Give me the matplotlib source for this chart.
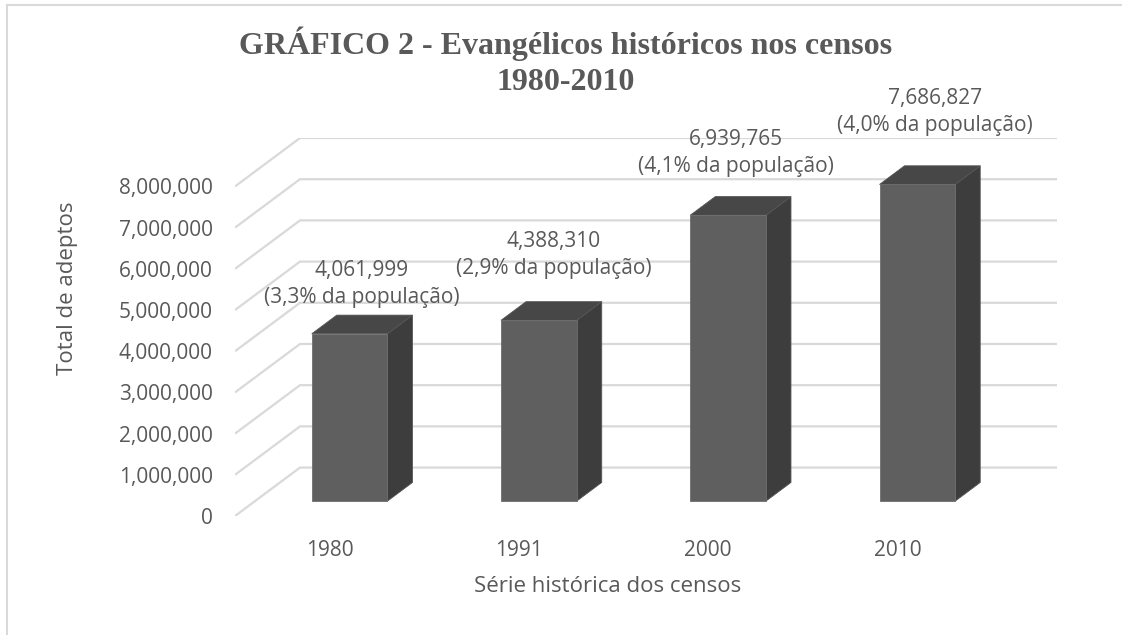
import matplotlib
matplotlib.use("Agg")
import matplotlib.pyplot as plt
from matplotlib.patches import Polygon
from matplotlib.ticker import FuncFormatter
from matplotlib.lines import Line2D

# ---- data ----
years = ["1980", "1991", "2000", "2010"]
adeptos = [4061999, 4388310, 6939765, 7686827]
pct_labels = ["(3,3% da população)", "(2,9% da população)",
              "(4,1% da população)", "(4,0% da população)"]
yticks = [0, 1000000, 2000000, 3000000, 4000000, 5000000, 6000000, 7000000, 8000000]
title_line1 = "GRÁFICO 2 - Evangélicos históricos nos censos"
title_line2 = "1980-2010"
xlabel = "Série histórica dos censos"
ylabel = "Total de adeptos"

# ---- layout / style ----
W, H = 1122, 635
TXT = "#595959"
GRID = "#d9d9d9"
FRONT = "#5f5f5f"
SIDE = "#3d3d3d"
TOP = "#474747"
FONT = ["Open Sans", "DejaVu Sans"]
SERIF = ["Liberation Serif", "DejaVu Serif"]

fig = plt.figure(figsize=(W / 100, H / 100), dpi=100)
# axes rectangle in pixels: x 235..1057, y 138..516
ax = fig.add_axes([235 / W, 1 - 516 / H, (1057 - 235) / W, (516 - 138) / H])
n = len(years)
depth_x = 65 / 189.25          # full depth in category units
depth_y = 48.5 / 41.25 * 1e6   # full depth in value units
ymax_front = 8000000
ax.set_xlim(-0.5, n - 0.5 + depth_x)
ax.set_ylim(0, ymax_front + depth_y)
for s in ax.spines.values():
    s.set_visible(False)

# gridlines: side wall diagonal + back wall horizontal
for v in yticks:
    ax.plot([-0.5, -0.5 + depth_x, n - 0.5 + depth_x], [v, v + depth_y, v + depth_y],
            color=GRID, lw=1.6, zorder=1, solid_capstyle="butt")

# bars
bar_w = 0.40
bar_d = 25 / 65                      # bar depth fraction of full depth
front_f = 0.5 - bar_d / 2            # front face depth fraction
bdx, bdy = bar_d * depth_x, bar_d * depth_y
for i, h in enumerate(adeptos):
    x0 = i - bar_w / 2 + front_f * depth_x
    y0 = front_f * depth_y
    x1 = x0 + bar_w
    y1 = y0 + h
    front = Polygon([(x0, y0), (x1, y0), (x1, y1), (x0, y1)], closed=True,
                    facecolor=FRONT, edgecolor="#6e6e6e", lw=0.6, zorder=3)
    side = Polygon([(x1, y0), (x1 + bdx, y0 + bdy), (x1 + bdx, y1 + bdy), (x1, y1)],
                   closed=True, facecolor=SIDE, edgecolor="#555555", lw=0.6, zorder=3)
    top = Polygon([(x0, y1), (x1, y1), (x1 + bdx, y1 + bdy), (x0 + bdx, y1 + bdy)],
                  closed=True, facecolor=TOP, edgecolor="#555555", lw=0.6, zorder=3)
    for p in (side, top, front):
        ax.add_patch(p)

# data labels (manual placement offsets in pixels from bar front-top centre)
label_dx = [-0.5, 2.3, -5, 5]
label_dy = [50, 65.5, 62, 72.5]
for i, h in enumerate(adeptos):
    cx = i + 0.5 * depth_x
    cy = front_f * depth_y + h
    ax.annotate(f"{h:,}\n{pct_labels[i]}", xy=(cx, cy),
                xytext=(label_dx[i] * 0.72, label_dy[i] * 0.72), textcoords="offset points",
                ha="center", va="center", fontsize=15, color=TXT, family=FONT,
                linespacing=1.35, zorder=5)

# ticks
ax.set_yticks(yticks)
ax.yaxis.set_major_formatter(FuncFormatter(lambda v, p: f"{int(v):,}"))
ax.set_xticks(range(n))
ax.set_xticklabels(years)
ax.tick_params(axis="y", length=0, pad=16, labelsize=15, labelcolor=TXT)
ax.tick_params(axis="x", length=0, pad=17, labelsize=15, labelcolor=TXT)
for lab in ax.get_xticklabels() + ax.get_yticklabels():
    lab.set_family(FONT)
ax.grid(False)

# axis titles
fig.text(68 / W, 1 - 288 / H, ylabel, rotation=90, ha="center", va="center",
         fontsize=16, color=TXT, family=FONT)
fig.text(608 / W, 1 - 587 / H, xlabel, ha="center", va="center",
         fontsize=16, color=TXT, family=FONT)

# title
fig.text(566 / W, 1 - 44 / H, title_line1, ha="center", va="center",
         fontsize=23, fontweight="bold", color=TXT, family=SERIF)
fig.text(566 / W, 1 - 82 / H, title_line2, ha="center", va="center",
         fontsize=23, fontweight="bold", color=TXT, family=SERIF)

# chart frame (left and top edges visible)
fig.add_artist(Line2D([7 / W, 7 / W], [0, 1 - 5 / H], color=GRID, lw=1.5))
fig.add_artist(Line2D([7 / W, 1], [1 - 5 / H, 1 - 5 / H], color=GRID, lw=1.5))

fig.savefig("out.png", dpi=100)
